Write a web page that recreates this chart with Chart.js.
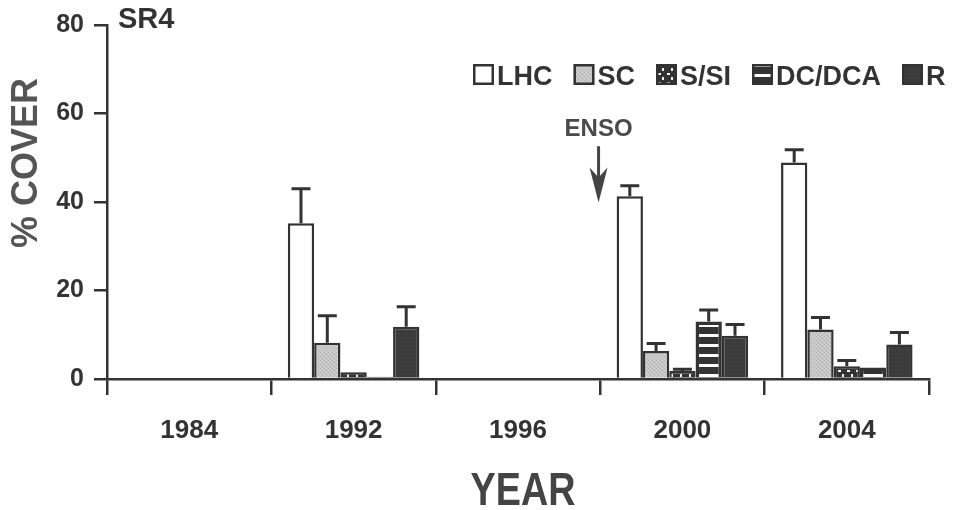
<!DOCTYPE html>
<html>
<head>
<meta charset="utf-8">
<script src="https://cdn.jsdelivr.net/npm/chart.js@4/dist/chart.umd.min.js"></script>
<style>
  html, body { margin: 0; padding: 0; background: #fff; }
  canvas { display: block; }
</style>
</head>
<body>
<canvas id="c" width="956" height="510"></canvas>
<script>
// Survey years (categories) and per-class mean cover with upper error bars
const years = ['1984', '1992', '1996', '2000', '2004'];
const seriesNames = ['LHC', 'SC', 'S/SI', 'DC/DCA', 'R'];

const lhc    = [null, 35.2, null, 41.3, 48.9];
const lhcErr = [null, 7.8,  null, 2.4,  2.9];
const sc     = [null, 8.2,  null, 6.3,  11.2];
const scErr  = [null, 6.1,  null, 1.7,  2.7];
const ssi    = [null, 1.5,  null, 1.8,  2.9];
const ssiErr = [null, 0,    null, 0.4,  1.3];
const dc     = [null, 0.5,  null, 13.0, 2.6];
const dcErr  = [null, 0,    null, 2.6,  0];
const rock   = [null, 11.8, null, 9.8,  7.8];
const rockErr= [null, 4.5,  null, 2.5,  2.7];

const yTicks = [0, 20, 40, 60, 80];

const INK = '#333333';
const FONT = '"Liberation Sans", Arial, Helvetica, sans-serif';

// ---- fill patterns ----
function makePattern(w, h, draw) {
  const c = document.createElement('canvas');
  c.width = w; c.height = h;
  const g = c.getContext('2d');
  draw(g);
  return g.createPattern(c, 'repeat');
}
const scFill = makePattern(4, 4, g => {
  g.fillStyle = '#c6c6c6'; g.fillRect(0, 0, 4, 4);
  g.fillStyle = '#b2b2b2'; g.fillRect(0, 0, 1, 1); g.fillRect(2, 2, 1, 1);
  g.fillStyle = '#dadada'; g.fillRect(2, 0, 1, 1); g.fillRect(0, 2, 1, 1);
});
const ssiFill = makePattern(9, 9, g => {
  g.fillStyle = '#333'; g.fillRect(0, 0, 9, 9);
  g.fillStyle = '#f4f4f4'; g.fillRect(1, 1, 3, 2); g.fillRect(5, 5, 2, 3);
});
const dcFill = makePattern(10, 10, g => {
  g.fillStyle = '#333'; g.fillRect(0, 0, 10, 10);
  g.fillStyle = '#fbfbfb'; g.fillRect(0, 4, 10, 3);
});
const rockFill = makePattern(4, 4, g => {
  g.fillStyle = '#3a3a3a'; g.fillRect(0, 0, 4, 4);
  g.fillStyle = '#474747'; g.fillRect(1, 1, 1, 1); g.fillRect(3, 2, 1, 1);
});

const fills = ['#ffffff', scFill, ssiFill, dcFill, rockFill];
const values = [lhc, sc, ssi, dc, rock];
const errors = [lhcErr, scErr, ssiErr, dcErr, rockErr];

const datasets = seriesNames.map((name, i) => ({
  label: name,
  data: values[i],
  err: errors[i],
  backgroundColor: fills[i],
  borderColor: INK,
  borderWidth: i === 3 ? 3.5 : 2.5,
  barPercentage: 1.0,
  categoryPercentage: 0.8
}));

// ---- upper error bars ----
const errorBars = {
  id: 'errorBars',
  afterDatasetsDraw(chart) {
    const ctx = chart.ctx;
    const y = chart.scales.y;
    ctx.save();
    ctx.strokeStyle = INK;
    ctx.lineWidth = 3;
    chart.data.datasets.forEach((ds, di) => {
      const meta = chart.getDatasetMeta(di);
      meta.data.forEach((bar, k) => {
        const v = ds.data[k], e = ds.err[k];
        if (v == null || !e) return;
        const top = y.getPixelForValue(v + e);
        ctx.beginPath();
        ctx.moveTo(bar.x, bar.y);
        ctx.lineTo(bar.x, top);
        ctx.moveTo(bar.x - 9.5, top);
        ctx.lineTo(bar.x + 9.5, top);
        ctx.stroke();
      });
    });
    ctx.restore();
  }
};

// ---- annotations: panel tag, legend, ENSO marker, axis titles ----
const decorations = {
  id: 'decorations',
  afterDraw(chart) {
    const ctx = chart.ctx;
    const xs = chart.scales.x, ys = chart.scales.y;
    ctx.save();

    // panel tag
    ctx.fillStyle = INK;
    ctx.font = 'bold 29px ' + FONT;
    ctx.textAlign = 'left';
    ctx.textBaseline = 'alphabetic';
    ctx.fillText('SR4', 118, 28);

    // legend
    ctx.font = 'bold 27px ' + FONT;
    let lx = 473;
    const boxTop = 64, box = 21;
    chart.data.datasets.forEach(ds => {
      ctx.fillStyle = ds.backgroundColor;
      ctx.fillRect(lx, boxTop, box, box);
      ctx.strokeStyle = INK;
      ctx.lineWidth = 2.5;
      ctx.strokeRect(lx + 1.25, boxTop + 1.25, box - 2.5, box - 2.5);
      ctx.fillStyle = INK;
      ctx.fillText(ds.label, lx + box + 3, 85);
      lx += box + 3 + ctx.measureText(ds.label).width + 21;
    });

    // ENSO arrow between 1996 and 2000
    const ax = xs.getPixelForValue(2.49);
    const yText = ys.getPixelForValue(56.4);
    const yFrom = ys.getPixelForValue(52.6);
    const yTip = ys.getPixelForValue(39.9);
    ctx.fillStyle = '#4a4a4a';
    ctx.font = 'bold 24px ' + FONT;
    ctx.textAlign = 'center';
    ctx.textBaseline = 'middle';
    ctx.fillText('ENSO', ax, yText);
    ctx.strokeStyle = '#444';
    ctx.lineWidth = 3;
    ctx.beginPath();
    ctx.moveTo(ax, yFrom);
    ctx.lineTo(ax, yTip - 20);
    ctx.stroke();
    ctx.fillStyle = '#444';
    ctx.beginPath();
    ctx.moveTo(ax, yTip);
    ctx.lineTo(ax - 9, yTip - 35);
    ctx.lineTo(ax, yTip - 25);
    ctx.lineTo(ax + 9, yTip - 35);
    ctx.closePath();
    ctx.fill();

    // y axis title
    ctx.save();
    ctx.translate(37, 163);
    ctx.rotate(-Math.PI / 2);
    ctx.fillStyle = '#555';
    ctx.font = 'bold 36px ' + FONT;
    ctx.textAlign = 'center';
    ctx.textBaseline = 'alphabetic';
    ctx.fillText('% COVER', 0, 0);
    ctx.restore();

    // x axis title (narrow face)
    ctx.save();
    ctx.translate((xs.left + xs.right) / 2 + 5, 505);
    ctx.scale(0.82, 1);
    ctx.fillStyle = '#444';
    ctx.font = 'bold 46px ' + FONT;
    ctx.textAlign = 'center';
    ctx.textBaseline = 'alphabetic';
    ctx.fillText('YEAR', 0, 0);
    ctx.restore();

    ctx.restore();
  }
};

new Chart(document.getElementById('c'), {
  type: 'bar',
  data: { labels: years, datasets },
  plugins: [errorBars, decorations],
  options: {
    responsive: false,
    animation: false,
    devicePixelRatio: 1,
    layout: { padding: { top: 20, right: 27, left: 0, bottom: 0 } },
    plugins: {
      legend: { display: false },
      tooltip: { enabled: false }
    },
    scales: {
      x: {
        type: 'category',
        offset: true,
        grid: {
          offset: true,
          drawOnChartArea: false,
          tickLength: 16,
          color: INK,
          lineWidth: 2.5
        },
        border: { color: INK, width: 2.5 },
        ticks: {
          color: INK,
          font: { family: FONT, size: 26, weight: 'bold' },
          padding: 20,
          maxRotation: 0
        },
        afterFit(s) { s.height = 131; }
      },
      y: {
        min: 0,
        max: 80,
        afterBuildTicks(s) { s.ticks = yTicks.map(v => ({ value: v })); },
        grid: {
          drawOnChartArea: false,
          tickLength: 13,
          color: INK,
          lineWidth: 2.5
        },
        border: { color: INK, width: 2.5 },
        ticks: {
          color: INK,
          font: { family: FONT, size: 25, weight: 'bold' },
          padding: 10
        },
        afterFit(s) { s.width = 107; }
      }
    }
  }
});
</script>
</body>
</html>
